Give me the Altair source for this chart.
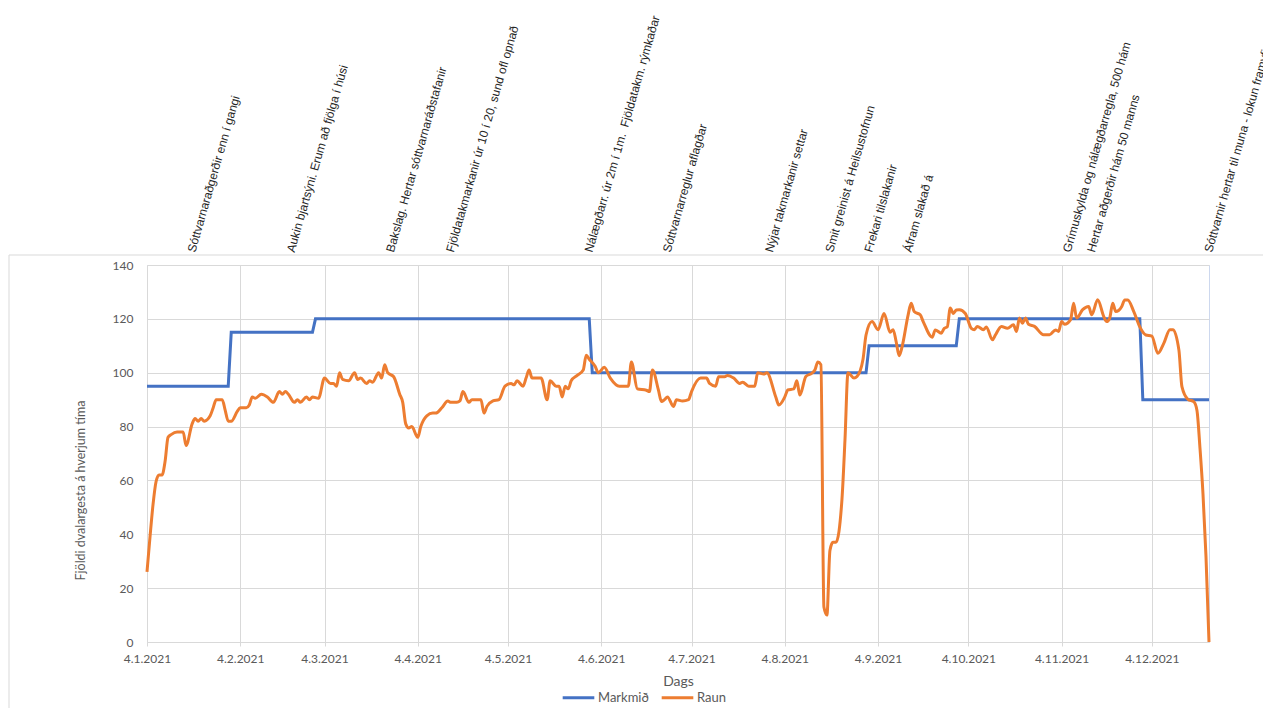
import altair as alt
import pandas as pd

# ---------------- data ----------------
START = "2021-01-04"

MARKMID_DATES = ["2021-01-04", "2021-01-31", "2021-02-01", "2021-02-28", "2021-03-01",
                 "2021-05-31", "2021-06-01", "2021-08-31", "2021-09-01", "2021-09-30",
                 "2021-10-01", "2021-11-30", "2021-12-01", "2021-12-23"]
MARKMID_VALUES = [95, 95, 115, 115, 120, 120, 100, 100, 110, 110, 120, 120, 90, 90]

# day offset from START, value
RAUN_DAY = [0, 1, 2, 3, 4, 5, 6, 7, 8, 10, 12, 13, 15, 16, 17, 18, 19, 21, 22, 23,
            25, 26, 27, 28, 30, 31, 33, 34, 35, 36, 38, 40, 42, 44, 45, 46, 47, 49, 50, 51,
            53, 54, 55, 57, 59, 61, 62, 63, 64, 65, 67, 69, 70, 71, 73, 74, 75, 77, 78, 79,
            80, 82, 84, 85, 86, 87, 88, 90, 91, 93, 95, 96, 98, 100, 101, 103, 104, 105, 107, 108,
            111, 112, 113, 115, 117, 119, 121, 122, 123, 125, 126, 127, 128, 131, 133, 134, 136, 137, 138, 139,
            140, 141, 143, 145, 146, 147, 149, 150, 152, 154, 157, 160, 161, 163, 166, 167, 168, 170, 171, 172,
            173, 175, 176, 178, 180, 181, 184, 186, 187, 189, 190, 192, 193, 195, 197, 198, 200, 202, 203, 205,
            206, 209, 210, 212, 213, 215, 216, 217, 219, 221, 222, 223, 224, 225, 226, 227, 228, 229, 231, 232,
            233, 235, 236, 238, 239, 241, 243, 245, 247, 248, 249, 250, 251, 253, 254, 255, 257, 258, 261, 262,
            264, 265, 266, 267, 268, 269, 270, 272, 274, 275, 276, 278, 279, 281, 282, 284, 286, 288, 289, 290,
            291, 292, 293, 295, 298, 300, 302, 303, 304, 305, 307, 308, 309, 311, 313, 314, 316, 318, 319, 320,
            321, 322, 324, 325, 326, 328, 330, 332, 334, 336, 338, 340, 341, 343, 344, 346, 348, 349, 350, 351,
            352, 353]
RAUN_VALUES = [26, 39, 51, 59.5, 62, 62, 67, 76, 77, 78, 78, 73, 81, 83, 82, 83, 82, 84, 87, 90,
               90, 86, 82, 82, 85.6, 87, 87, 88, 91, 90.5, 92, 91, 89, 93, 92, 93, 92, 89, 90, 89,
               91, 90, 91, 90.5, 98, 96, 96, 95, 100, 97.5, 97, 100, 97.5, 98, 96, 97, 96.5, 100, 98, 103,
               100, 98.5, 92, 89, 81, 79.5, 80, 76, 80, 84, 85, 85, 87, 89.5, 89, 89, 89.5, 93, 89, 90,
               90, 85, 87.5, 89.5, 90, 95, 96, 95.5, 97, 95, 98, 101, 98, 98, 90, 97, 95, 95, 91, 95,
               94, 97, 99, 101, 106.5, 105, 102.3, 100, 102, 98, 95, 95, 104, 94, 93.5, 93, 101, 93.5, 89.3, 90,
               91, 87.5, 90, 89.5, 90, 93, 98, 98, 96, 95, 98.5, 98.5, 99, 98, 96, 96.5, 95, 95, 100, 99.5,
               100, 91, 88, 91, 93.6, 94, 97, 91.7, 98.6, 99.8, 101, 104, 103, 13, 10, 34, 37, 37, 53, 75,
               100, 98, 98.6, 105, 114, 119, 116, 122, 115, 116, 111.6, 106.3, 109.7, 121.5, 125.8, 122.7, 121.5, 119, 113.2, 115.9,
               114.7, 116.5, 117, 124, 122, 123.3, 123.4, 122, 116.5, 116, 117.2, 116, 117, 112.2, 114, 117.2, 116.5, 117.8, 115.3, 120.3,
               118.4, 120.3, 118, 117.2, 114.1, 114.1, 115.9, 115.3, 119, 118, 119.7, 125.8, 120.3, 123.4, 124.6, 121.5, 127.1, 120.9, 119, 120.3,
               125.8, 122.7, 124.6, 127, 127, 122.7, 117, 114, 113.6, 107.2, 111, 116, 116, 108.4, 94.8, 90.1, 89.2, 86, 72, 55,
               31.7, 0]

EVENT_DATES = ["2021-01-20", "2021-02-22", "2021-03-27", "2021-04-16", "2021-06-01",
               "2021-06-27", "2021-07-31", "2021-08-20", "2021-09-02", "2021-09-15",
               "2021-11-07", "2021-11-15", "2021-12-24"]
EVENT_TEXTS = ["Sóttvarnaraðgerðir enn í gangi",
               "Aukin bjartsýni. Erum að fjölga í húsi",
               "Bakslag. Hertar sóttvarnaráðstafanir",
               "Fjöldatakmarkanir úr 10 í 20, sund ofl opnað",
               "Nálægðarr. úr 2m í 1m.\u00a0 Fjöldatakm. rýmkaðar",
               "Sóttvarnarreglur aflagðar",
               "Nýjar takmarkanir settar",
               "Smit greinist á Heilsustofnun",
               "Frekari tilslakanir",
               "Áfram slakað á",
               "Grímuskylda og nálægðarregla, 500 hám",
               "Hertar aðgerðir hám 50 manns",
               "Sóttvarnir hertar til muna - lokun framyfir áramót"]

SERIES = ["Markmið", "Raun"]
Y_TICKS = [0, 20, 40, 60, 80, 100, 120, 140]
X_TICK_MONTHS = list(range(1, 13))  # ticks on the 4th of each month

BLUE = "#4472C4"
ORANGE = "#ED7D31"
GRID = "#d9d9d9"
LABEL = "#595959"

# ---------------- build tables ----------------
start = pd.Timestamp(START)
raun = pd.DataFrame({"date": start + pd.to_timedelta(RAUN_DAY, unit="D"),
                     "value": RAUN_VALUES, "series": SERIES[1]})
markmid = pd.DataFrame({"date": pd.to_datetime(MARKMID_DATES),
                        "value": MARKMID_VALUES, "series": SERIES[0]})
events = pd.DataFrame({"date": pd.to_datetime(EVENT_DATES), "text": EVENT_TEXTS})

W, H = 1062, 377

x_scale = alt.Scale(domain=[alt.DateTime(year=2021, month=1, date=4),
                            alt.DateTime(year=2021, month=12, date=23)])
x_axis = alt.Axis(values=[alt.DateTime(year=2021, month=m, date=4) for m in X_TICK_MONTHS],
                  format="%-d.%-m.%Y", labelFont="Lato", labelFontSize=12, labelColor=LABEL,
                  labelFlush=False, labelOverlap=False, tickColor=GRID, tickSize=4,
                  labelPadding=7, grid=True, gridColor=GRID, domain=False,
                  title="Dags", titleFont="Lato", titleFontSize=14, titleFontWeight="normal",
                  titleColor=LABEL, titleY=39, titleBaseline="middle")
y_scale = alt.Scale(domain=[0, 140], nice=False)
y_axis = alt.Axis(values=Y_TICKS, labelFont="Lato", labelFontSize=12, labelColor=LABEL,
                  ticks=False, tickSize=0, labelPadding=14, domain=False, grid=True,
                  gridColor=GRID, title="Fjöldi dvalargesta á hverjum tíma", titleFont="Lato",
                  titleFontSize=12.5, titleFontWeight="normal", titleColor=LABEL,
                  titleX=-67, titleY=225, titleAngle=270, titleAlign="center",
                  titleBaseline="middle")
color = alt.Color("series:N",
                  scale=alt.Scale(domain=SERIES, range=[BLUE, ORANGE]),
                  legend=alt.Legend(orient="none", legendX=414, legendY=415,
                                    direction="horizontal", title=None, symbolType="stroke",
                                    symbolStrokeWidth=3, symbolSize=1000, labelFont="Lato",
                                    labelFontSize=13, labelColor=LABEL, columnPadding=6,
                                    labelOffset=2, padding=0))

blue_line = alt.Chart(markmid).mark_line(strokeWidth=3).encode(
    x=alt.X("date:T", scale=x_scale, axis=x_axis),
    y=alt.Y("value:Q", scale=y_scale, axis=y_axis),
    color=color,
)
orange_line = alt.Chart(raun).mark_line(strokeWidth=3, interpolate="monotone").encode(
    x="date:T", y="value:Q", color=color,
)
notes = alt.Chart(events).mark_text(angle=286, align="left", baseline="alphabetic",
                                    font="Liberation Sans", fontSize=12,
                                    color="#262626").encode(
    x="date:T", y=alt.value(-12), text="text:N",
)
frame_df = pd.DataFrame({"k": [0]})
frame_top = alt.Chart(frame_df).mark_rule(color=GRID, strokeWidth=1).encode(
    x=alt.value(-138), x2=alt.value(W + 80), y=alt.value(-10))
frame_left = alt.Chart(frame_df).mark_rule(color=GRID, strokeWidth=1).encode(
    x=alt.value(-138), y=alt.value(-10), y2=alt.value(H + 120))

chart = alt.layer(frame_top, frame_left, blue_line, orange_line, notes).properties(
    width=W, height=H,
    autosize=alt.AutoSizeParams(type="none"),
    padding={"left": 139, "top": 257, "right": 54, "bottom": 66},
    background="white",
).configure_view(stroke="#cdd8ee", strokeWidth=1)

chart.save("out.html", embed_options={"renderer": "svg", "actions": False})
